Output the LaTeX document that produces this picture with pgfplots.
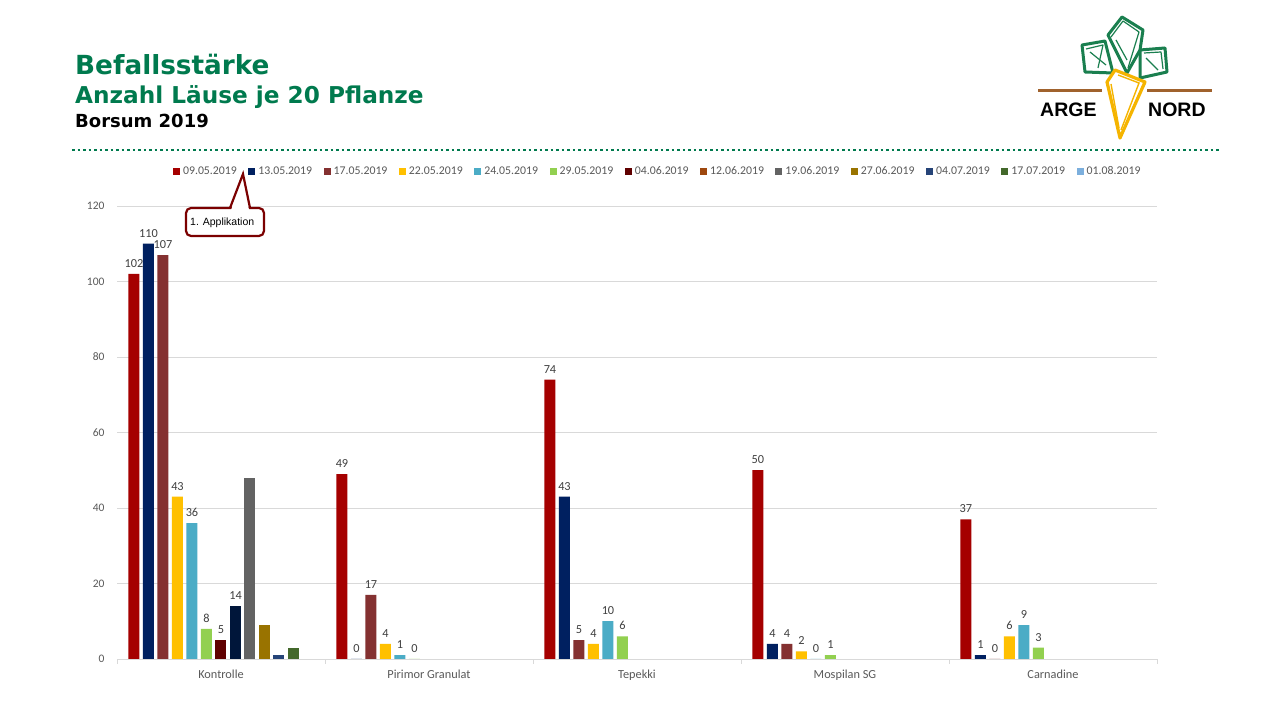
\documentclass[border=0pt]{standalone}
\usepackage{fontspec}
\setmainfont{Carlito}
\newfontfamily\titlefont{DejaVu Sans}
\newfontfamily\arialfont{Liberation Sans}
\usepackage{pgfplots}
\pgfplotsset{compat=1.18}
\definecolor{cA}{HTML}{A50000}
\definecolor{cB}{HTML}{002060}
\definecolor{cC}{HTML}{843131}
\definecolor{cD}{HTML}{FFC000}
\definecolor{cE}{HTML}{4BACC6}
\definecolor{cF}{HTML}{92D050}
\definecolor{cG}{HTML}{600000}
\definecolor{cH}{HTML}{00163A}
\definecolor{cHleg}{HTML}{9E480E}
\definecolor{cI}{HTML}{636363}
\definecolor{cJ}{HTML}{997300}
\definecolor{cK}{HTML}{264478}
\definecolor{cL}{HTML}{43682B}
\definecolor{cM}{HTML}{7CAFDD}
\definecolor{titlegreen}{HTML}{007A4E}
\definecolor{gridgray}{HTML}{D9D9D9}
\definecolor{tickgray}{HTML}{595959}
\definecolor{labelgray}{HTML}{404040}
\definecolor{calloutred}{HTML}{7B0000}
\definecolor{leafgreen}{HTML}{1A7F4F}
\definecolor{carrot}{HTML}{F5B400}
\definecolor{soil}{HTML}{A0622D}
\begin{document}
\begin{tikzpicture}[x=1pt,y=1pt]
\path[use as bounding box, fill=white] (0,0) rectangle (1280,720);
% titles
\node[anchor=base west, inner sep=0, text=titlegreen, font=\titlefont\bfseries\fontsize{26.3}{30}\selectfont] at (75,645) {Befallsstärke};
\node[anchor=base west, inner sep=0, text=titlegreen, font=\titlefont\bfseries\fontsize{23.2}{26}\selectfont] at (75,616) {Anzahl Läuse je 20 Pflanze};
\node[anchor=base west, inner sep=0, text=black, font=\titlefont\bfseries\fontsize{18}{22}\selectfont] at (75,592.5) {Borsum 2019};
\draw[titlegreen, line width=2.5pt, dash pattern=on 2.5pt off 3pt] (72,570) -- (1220,570);
% logo
\begin{scope}[line width=3pt, draw=leafgreen, line join=round]
\draw (1108,685) -- (1122,703) -- (1143,690) -- (1140,670) -- (1127,647) -- cycle;
\draw[line width=1.2pt] (1111,683) -- (1123,699) -- (1139,688) -- (1128,652);
\draw[line width=1.2pt] (1116,680) -- (1127,660);
\draw (1082,675) -- (1105,679) -- (1113,647) -- (1085,648) -- cycle;
\draw[line width=1.2pt] (1086,671) -- (1103,675) -- (1098,652);
\draw[line width=1.2pt] (1090,668) -- (1106,655);
\draw (1140,670) -- (1165,672) -- (1167,648) -- (1140,642) -- cycle;
\draw[line width=1.2pt] (1144,667) -- (1161,668) -- (1163,651);
\draw[line width=1.2pt] (1146,662) -- (1158,650);
\end{scope}
\draw[soil, line width=2.5pt] (1038,629.3) -- (1102,629.3);
\draw[soil, line width=2.5pt] (1147,629.3) -- (1212,629.3);
\draw[carrot, line width=3.2pt, fill=white, line join=round] (1115,650) -- (1145,638) -- (1120,582) -- (1107,638) -- cycle;
\draw[carrot, line width=1.4pt] (1118,645) -- (1139,637) -- (1121,590);
\draw[carrot, line width=1.4pt] (1111,636) -- (1119,592);
\node[anchor=base west, inner sep=0, font=\arialfont\bfseries\fontsize{19.5}{22}\selectfont] at (1040,603) {ARGE};
\node[anchor=base west, inner sep=0, font=\arialfont\bfseries\fontsize{19.5}{22}\selectfont] at (1148,603) {NORD};
% chart
\begin{axis}[
  at={(117pt,61pt)}, anchor=south west,
  scale only axis, width=1040pt, height=453pt,
  ybar, bar width=11pt,
  xmin=-0.5, xmax=4.5, ymin=0, ymax=120,
  xtick={0,1,2,3,4},
  xticklabels={Kontrolle,Pirimor Granulat,Tepekki,Mospilan SG,Carnadine},
  ytick={0,20,...,120},
  ymajorgrids, grid style={draw=gridgray, line width=0.75pt},
  axis x line*=bottom, axis y line*=left,
  x axis line style={draw=gridgray, line width=0.75pt, -},
  y axis line style={draw=none},
  major tick length=0pt,
  extra x ticks={-0.5,0.5,1.5,2.5,3.5,4.5},
  extra x tick labels={},
  extra x tick style={major tick length=5pt, tick align=outside, grid=none, xtick style={draw=gridgray, line width=0.75pt}},
  xticklabel style={font=\fontsize{12.3}{14}\selectfont, text=tickgray, yshift=-7pt},
  yticklabel style={font=\fontsize{11.5}{13}\selectfont, text=tickgray, xshift=-9pt},
  /pgf/number format/assume math mode=true,
  every node near coord/.append style={font=\fontsize{12.3}{14}\selectfont, text=labelgray, yshift=3pt},
  clip=false,
  legend style={at={(0.52,1.077)}, anchor=center, draw=none, fill=none,
    font=\fontsize{11.8}{13}\selectfont, text=tickgray,
    /tikz/every even column/.append style={column sep=9.5pt},
    /tikz/every odd column/.append style={column sep=1pt}},
  legend columns=13,
  legend image code/.code={\fill[#1] (0pt,-3.5pt) rectangle (7pt,3.5pt);},
]
\addplot[fill=cA, draw=none, bar shift=-87pt, nodes near coords] coordinates {(0,102) (1,49) (2,74) (3,50) (4,37)};
\addlegendentry{09.05.2019}
\addplot[fill=cB, draw=none, bar shift=-72.5pt, nodes near coords] coordinates {(0,110) (1,0) (2,43) (3,4) (4,1)};
\addlegendentry{13.05.2019}
\addplot[fill=cC, draw=none, bar shift=-58pt, nodes near coords] coordinates {(0,107) (1,17) (2,5) (3,4) (4,0)};
\addlegendentry{17.05.2019}
\addplot[fill=cD, draw=none, bar shift=-43.5pt, nodes near coords] coordinates {(0,43) (1,4) (2,4) (3,2) (4,6)};
\addlegendentry{22.05.2019}
\addplot[fill=cE, draw=none, bar shift=-29pt, nodes near coords] coordinates {(0,36) (1,1) (2,10) (3,0) (4,9)};
\addlegendentry{24.05.2019}
\addplot[fill=cF, draw=none, bar shift=-14.5pt, nodes near coords] coordinates {(0,8) (1,0) (2,6) (3,1) (4,3)};
\addlegendentry{29.05.2019}
\addplot[fill=cG, draw=none, bar shift=0pt, nodes near coords] coordinates {(0,5)};
\addlegendentry{04.06.2019}
\addplot[fill=cH, draw=none, bar shift=14.5pt, nodes near coords, forget plot] coordinates {(0,14)};
\addlegendimage{fill=cHleg, draw=none}
\addlegendentry{12.06.2019}
\addplot[fill=cI, draw=none, bar shift=29pt] coordinates {(0,48)};
\addlegendentry{19.06.2019}
\addplot[fill=cJ, draw=none, bar shift=43.5pt] coordinates {(0,9)};
\addlegendentry{27.06.2019}
\addplot[fill=cK, draw=none, bar shift=58pt] coordinates {(0,1)};
\addlegendentry{04.07.2019}
\addplot[fill=cL, draw=none, bar shift=72.5pt] coordinates {(0,3)};
\addlegendentry{17.07.2019}
\addlegendimage{fill=cM, draw=none}
\addlegendentry{01.08.2019}
\end{axis}
% callout
\draw[calloutred, line width=2.2pt, rounded corners=5pt, fill=white] (186,512) rectangle (264,484);
\fill[white] (231,510) -- (243,546) -- (249,510) -- cycle;
\draw[calloutred, line width=2.2pt, line join=miter] (230,512) -- (243,546) -- (250,512);
\node[anchor=base west, inner sep=0, font=\arialfont\fontsize{10.5}{12}\selectfont] at (190,494.5) {1. Applikation};
\end{tikzpicture}
\end{document}
